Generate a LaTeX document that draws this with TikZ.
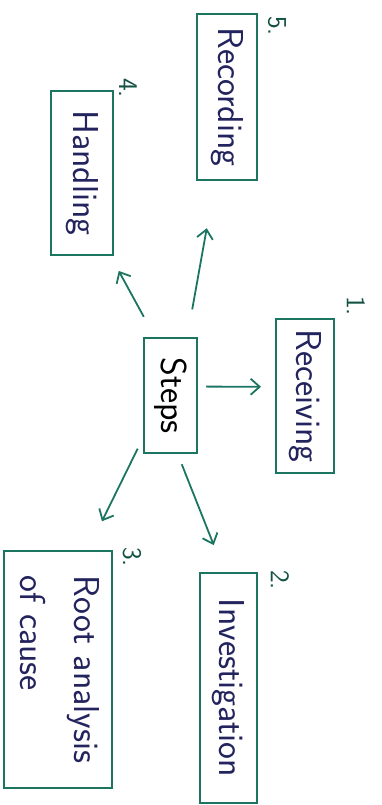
\documentclass[tikz,border=0pt]{standalone}
\usepackage{graphicx}
\usetikzlibrary{arrows.meta}
\definecolor{boxgreen}{HTML}{1B7560}
\definecolor{inkblue}{HTML}{23235E}
\begin{document}
\begin{tikzpicture}[x=1pt,y=1pt,
  box/.style={draw=boxgreen, line width=2pt, inner sep=0pt, text=inkblue,
    font=\sffamily\fontsize{36}{54}\selectfont},
  num/.style={text=boxgreen!70!black, font=\sffamily\fontsize{27}{30}\selectfont,
    rotate=-90, inner sep=0pt},
  link/.style={draw=boxgreen, line width=1.8pt,
    -{Straight Barb[length=9pt,width=16pt,line width=1.8pt]}}]
\useasboundingbox (0,0) rectangle (381,-805);

\node[box, minimum width=53pt, minimum height=115pt, text=black] (steps) at (170.5,-395.5) {\rotatebox{-90}{Steps}};
\node[box, minimum width=58pt, minimum height=154pt] (receiving) at (305,-396) {\rotatebox{-90}{Receiving}};
\node[box, minimum width=60pt, minimum height=166pt] (recording) at (227,-97) {\rotatebox{-90}{Recording}};
\node[box, minimum width=62pt, minimum height=164pt] (handling) at (82,-173) {\rotatebox{-90}{Handling}};
\node[box, minimum width=57pt, minimum height=230pt] (investigation) at (228.5,-688) {\rotatebox{-90}{Investigation}};
\node[box, minimum width=104pt, minimum height=237pt] (root) at (58,-669.5) {\rotatebox{-90}{\begin{tabular}{@{}l@{}}Root analysis\\of cause\end{tabular}}};

\node[num] (n5) at (277,-26) {5.};
\node[num] (n4) at (128,-88) {4.};
\node[num] (n1) at (356,-306) {1.};
\node[num] (n2) at (280,-580) {2.};
\node[num] (n3) at (132,-557) {3.};

\draw[link, shorten <=8pt, shorten >=14pt] (steps.18) -- (receiving.163);
\draw[link, shorten <=28pt, shorten >=48pt] (steps.74) -- (recording.262);
\draw[link, shorten <=23pt, shorten >=17pt] (steps.105) -- (handling.289);
\draw[link, shorten <=12pt, shorten >=32pt] (steps.237) -- (root.76);
\draw[link, shorten <=11pt, shorten >=29pt] (steps.277) -- (investigation.92);
\end{tikzpicture}
\end{document}
